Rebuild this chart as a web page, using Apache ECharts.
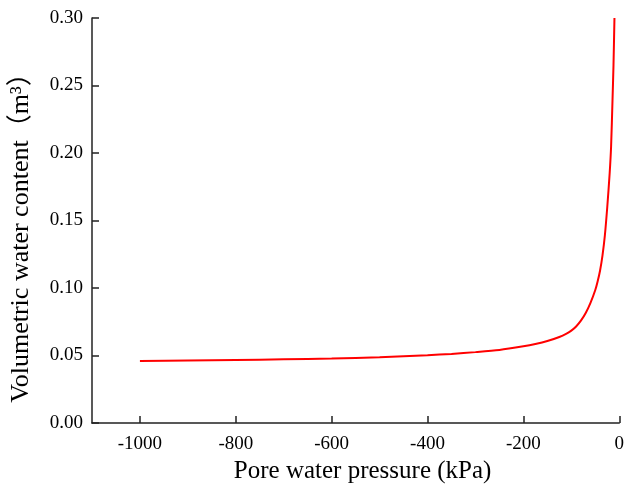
<!DOCTYPE html>
<html>
<head>
<meta charset="utf-8">
<script src="https://cdn.jsdelivr.net/npm/echarts@6/dist/echarts.min.js"></script>
<style>
html,body{margin:0;padding:0;background:#fff;}
#c{width:627px;height:490px;}
</style>
</head>
<body>
<div id="c"></div>
<script>
const pressure = [-1000, -900, -800, -700, -600, -500, -450, -400, -350, -300, -250, -200, -175, -150, -125, -110, -100, -90, -80, -70, -60, -50, -45, -40, -35, -30, -25, -20, -17, -14, -12, -10];
const waterContent = [0.0459, 0.0463, 0.0467, 0.0472, 0.0478, 0.0487, 0.0494, 0.0502, 0.0512, 0.0525, 0.0541, 0.0568, 0.0585, 0.0607, 0.0637, 0.0662, 0.0684, 0.0715, 0.0758, 0.0815, 0.0890, 0.0985, 0.1050, 0.1130, 0.1240, 0.1390, 0.1600, 0.1850, 0.2050, 0.2400, 0.2650, 0.3000];
const xTicks = [-1000, -800, -600, -400, -200, 0];
const yTicks = [0.00, 0.05, 0.10, 0.15, 0.20, 0.25, 0.30];

const font = '"Liberation Serif", "Times New Roman", "Noto Sans CJK SC", serif';
const chart = echarts.init(document.getElementById('c'));
chart.setOption({
  animation: false,
  backgroundColor: '#fff',
  grid: {left: 90, right: 7, top: 18, bottom: 67, containLabel: false},
  xAxis: {
    type: 'value', min: -1100, max: 0, interval: 100,
    name: 'Pore water pressure (kPa)', nameLocation: 'middle', nameGap: 34,
    nameTextStyle: {fontFamily: font, fontSize: 25, color: '#000', padding: [0, 0, 0, 14]},
    axisLine: {show: true, onZero: false, lineStyle: {color: '#222', width: 1.5}},
    axisTick: {show: true, inside: true, length: 7, lineStyle: {color: '#222', width: 1.5},
      customValues: xTicks},
    axisLabel: {fontFamily: font, fontSize: 19, color: '#000', margin: 12,
      customValues: xTicks, formatter: v => String(v)},
    splitLine: {show: false}
  },
  yAxis: {
    type: 'value', min: 0, max: 0.30, interval: 0.05,
    name: 'Volumetric water content（m³）', nameLocation: 'middle', nameGap: 58,
    nameTextStyle: {fontFamily: font, fontSize: 26, color: '#000', padding: [0, 22, 0, 0]},
    axisLine: {show: true, onZero: false, lineStyle: {color: '#222', width: 1.5}},
    axisTick: {show: true, inside: true, length: 7, lineStyle: {color: '#222', width: 1.5},
      customValues: yTicks},
    axisLabel: {fontFamily: font, fontSize: 19, color: '#000', margin: 9,
      customValues: yTicks, formatter: v => v.toFixed(2)},
    splitLine: {show: false}
  },
  series: [{
    type: 'line',
    data: pressure.map((p, i) => [p, waterContent[i]]),
    smooth: 0.25,
    showSymbol: false,
    lineStyle: {color: '#ff0000', width: 2}
  }]
});
</script>
</body>
</html>
